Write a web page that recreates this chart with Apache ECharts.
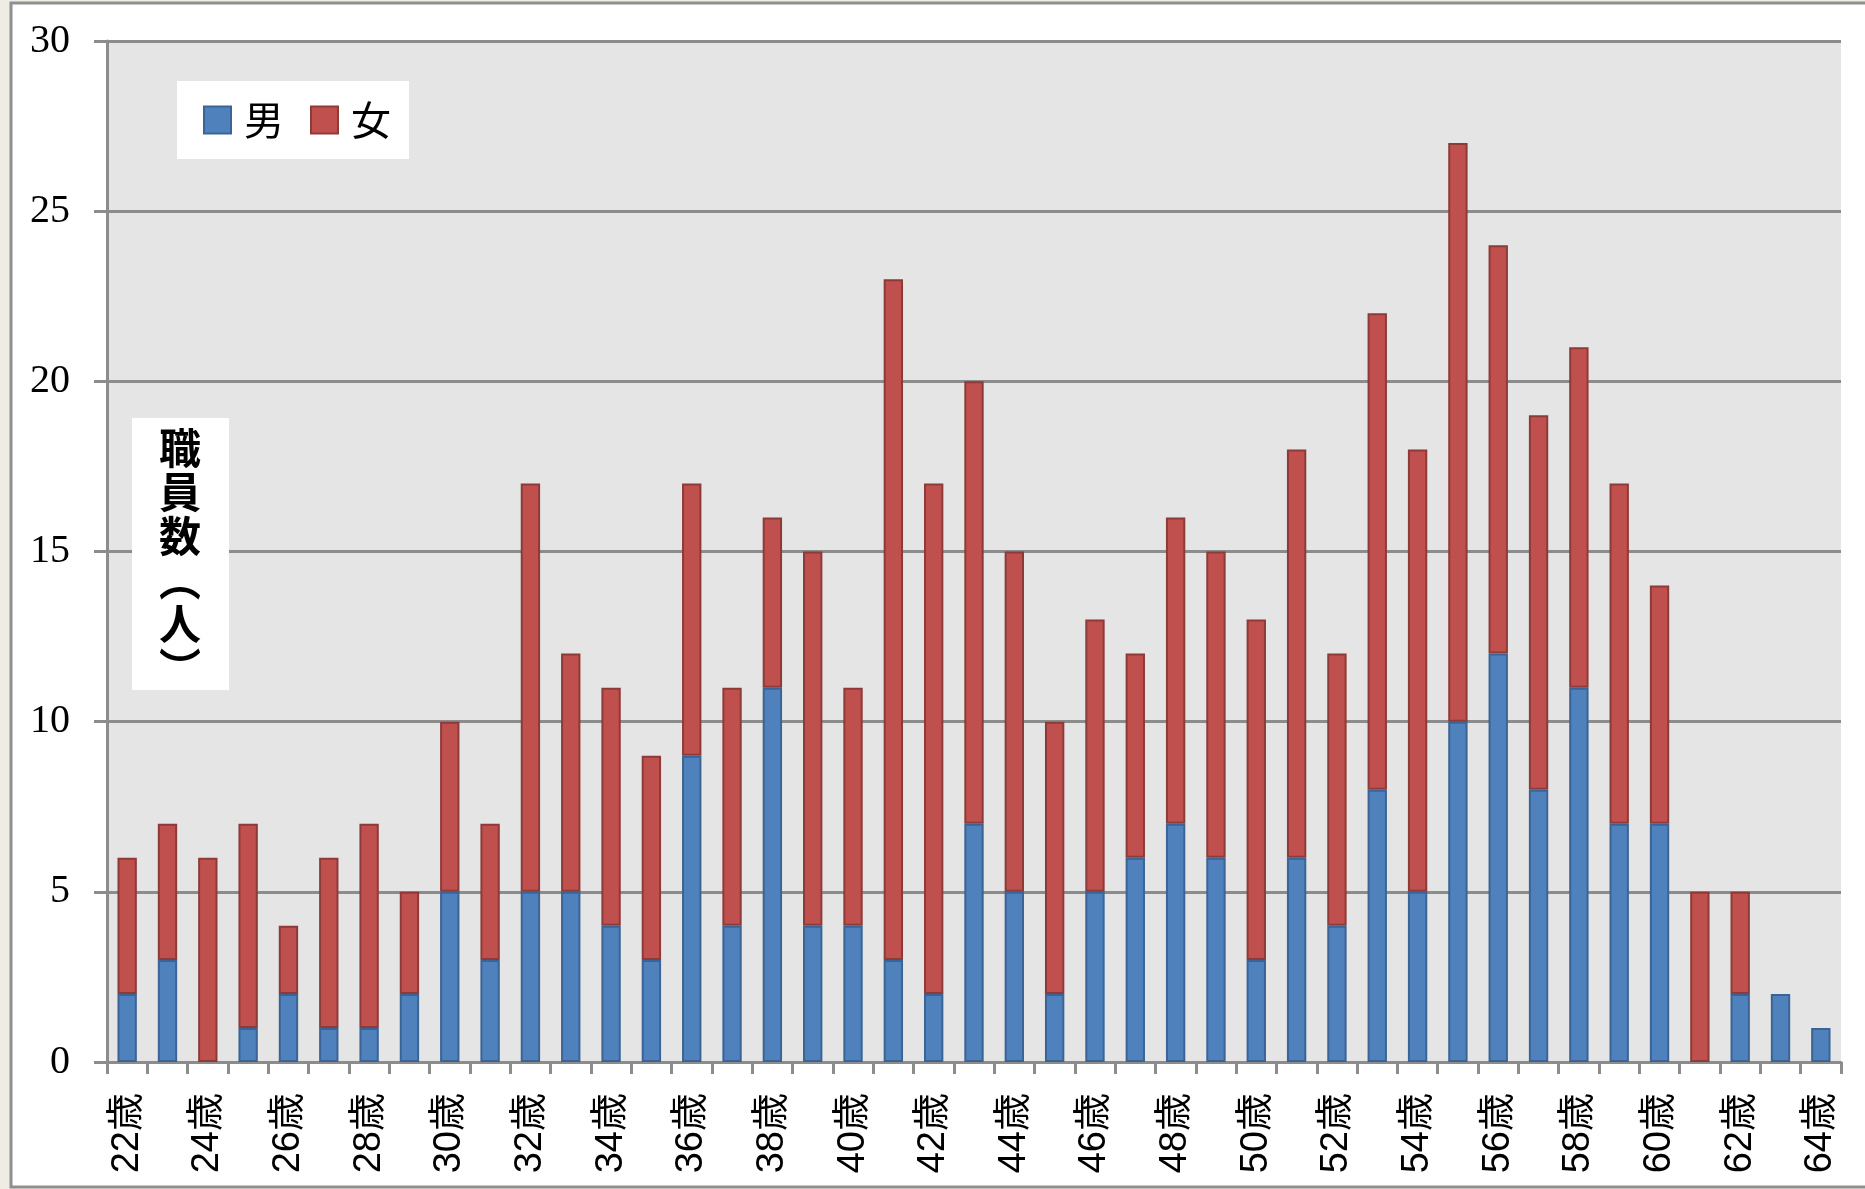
<!DOCTYPE html>
<html>
<head>
<meta charset="utf-8">
<style>
  html, body { margin: 0; padding: 0; background: #EFECE4; }
  #chart { width: 1865px; height: 1189px; }
</style>
<script src="https://cdn.jsdelivr.net/npm/echarts@6/dist/echarts.min.js"></script>
</head>
<body>
<div id="chart"></div>
<script>
// Staff headcount by age, split by sex
const ages = [];
for (let a = 22; a <= 64; a++) ages.push(a + '歳');

const male = [2, 3, 0, 1, 2, 1, 1, 2, 5, 3, 5, 5, 4, 3, 9, 4, 11, 4, 4, 3, 2, 7, 5, 2, 5, 6, 7, 6, 3, 6, 4, 8, 5, 10, 12, 8, 11, 7, 7, 0, 2, 2, 1];
const female = [4, 4, 6, 6, 2, 5, 6, 3, 5, 4, 12, 7, 7, 6, 8, 7, 5, 11, 7, 20, 15, 13, 10, 8, 8, 6, 9, 9, 10, 12, 8, 14, 13, 17, 12, 11, 10, 10, 7, 5, 3, 0, 0];

const seriesNames = ['男', '女'];
const yTicks = { min: 0, max: 30, interval: 5 };
const yAxisTitle = '職\n員\n数\n︵\n人\n︶';

// zero-height segments are left out so no stray border line is drawn
const nz = v => (v === 0 ? null : v);

const chart = echarts.init(document.getElementById('chart'), null, { renderer: 'canvas' });

const gray = '#8C8C8C';

chart.setOption({
  animation: false,
  backgroundColor: 'transparent',
  graphic: [
    {
      type: 'rect', z: -10, silent: true,
      shape: { x: 11, y: 3, width: 1880, height: 1184 },
      style: { fill: '#FFFFFF', stroke: '#8F8F8F', lineWidth: 3 }
    },
    {
      type: 'rect', z: 50, silent: true,
      shape: { x: 132, y: 418, width: 97, height: 272 },
      style: { fill: '#FFFFFF' }
    },
    {
      type: 'text', z: 51, silent: true,
      x: 180, y: 426,
      style: {
        text: yAxisTitle,
        fill: '#000000',
        font: 'bold 42px "Noto Sans CJK JP"',
        lineHeight: 44,
        align: 'center',
        verticalAlign: 'top'
      }
    }
  ],
  legend: {
    data: seriesNames,
    left: 177,
    top: 81,
    orient: 'horizontal',
    backgroundColor: '#FFFFFF',
    padding: [19, 18, 19, 26],
    itemWidth: 27,
    itemHeight: 27,
    itemGap: 26,
    icon: 'rect',
    textStyle: {
      fontFamily: '"Noto Sans CJK JP"',
      fontSize: 40,
      color: '#000000',
      padding: [0, 0, 0, 8]
    }
  },
  grid: {
    left: 107,
    top: 41,
    right: 24,
    bottom: 127,
    show: true,
    backgroundColor: '#E5E5E5',
    borderWidth: 0,
    containLabel: false
  },
  xAxis: {
    type: 'category',
    data: ages,
    boundaryGap: true,
    axisLine: { show: true, lineStyle: { color: gray, width: 3 } },
    axisTick: { show: true, interval: 0, length: 12, inside: false, lineStyle: { color: gray, width: 3 } },
    axisLabel: {
      interval: 1,
      rotate: 90,
      margin: 31,
      color: '#000000',
      fontFamily: '"Liberation Sans", "Noto Sans CJK JP"',
      fontSize: 38
    },
    splitLine: { show: false }
  },
  yAxis: {
    type: 'value',
    min: yTicks.min,
    max: yTicks.max,
    interval: yTicks.interval,
    axisLine: { show: true, lineStyle: { color: gray, width: 3 } },
    axisTick: { show: true, length: 13, lineStyle: { color: gray, width: 3 } },
    axisLabel: {
      margin: 37,
      color: '#000000',
      fontFamily: '"Liberation Serif", "Times New Roman", serif',
      fontSize: 40
    },
    splitLine: { show: true, lineStyle: { color: gray, width: 3 } }
  },
  series: [
    {
      name: seriesNames[0],
      type: 'bar',
      stack: 'total',
      barWidth: '48%',
      data: male.map(nz),
      itemStyle: { color: '#4F81BD', borderColor: '#3A6496', borderWidth: 2 }
    },
    {
      name: seriesNames[1],
      type: 'bar',
      stack: 'total',
      barWidth: '48%',
      data: female.map(nz),
      itemStyle: { color: '#C0504D', borderColor: '#8E3A38', borderWidth: 2 }
    }
  ]
});
</script>
</body>
</html>
